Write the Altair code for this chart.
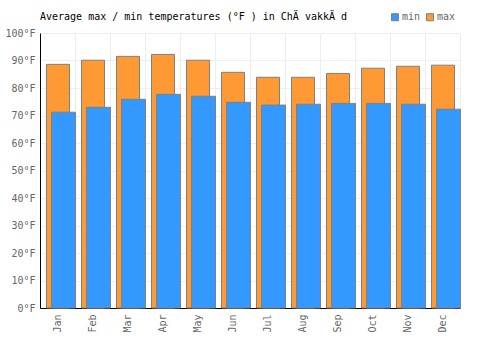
import altair as alt
import pandas as pd

months = ["Jan", "Feb", "Mar", "Apr", "May", "Jun", "Jul", "Aug", "Sep", "Oct", "Nov", "Dec"]
max_temps = [88.6, 90.1, 91.5, 92.2, 90.1, 85.7, 83.9, 83.9, 85.3, 87.2, 87.9, 88.3]
min_temps = [71.2, 73.0, 75.9, 77.7, 77.0, 74.8, 73.8, 74.1, 74.4, 74.4, 74.1, 72.3]
y_ticks = [0, 10, 20, 30, 40, 50, 60, 70, 80, 90, 100]
title_text = "Average max / min temperatures (°F ) in ChÄ vakkÄ d"

rows = []
for m, mx, mn in zip(months, max_temps, min_temps):
    rows.append({"month": m, "type": "max", "value": mx})
    rows.append({"month": m, "type": "min", "value": mn})
df = pd.DataFrame(rows)

FONT = "DejaVu Sans Mono"

x_enc = alt.X(
    "month:N",
    sort=months,
    title=None,
    scale=alt.Scale(paddingInner=0, paddingOuter=0),
    axis=alt.Axis(
        labelAngle=270,
        labelFont=FONT,
        labelFontSize=10,
        labelColor="#666666",
        labelPadding=6,
        ticks=False,
        tickBand="extent",
        grid=True,
        gridColor="#eeeeee",
        domainColor="#000000",
        labelBaseline="middle",
        labelAlign="right",
    ),
)
y_enc = alt.Y(
    "value:Q",
    title=None,
    scale=alt.Scale(domain=[0, 100], nice=False),
    axis=alt.Axis(
        values=y_ticks,
        labelExpr="datum.value + '°F'",
        labelFont=FONT,
        labelFontSize=10,
        labelColor="#666666",
        labelPadding=5,
        ticks=False,
        grid=True,
        gridColor="#eeeeee",
        domainColor="#000000",
    ),
)
color_enc = alt.Color(
    "type:N",
    scale=alt.Scale(domain=["min", "max"], range=["#3399ff", "#ff9933"]),
    legend=alt.Legend(
        title=None,
        orient="none",
        legendX=350,
        legendY=-21,
        direction="horizontal",
        symbolType="square",
        symbolSize=50,
        symbolStrokeColor="#808080",
        symbolStrokeWidth=1,
        labelFont=FONT,
        labelFontSize=10,
        labelColor="#666666",
        columnPadding=3,
        labelOffset=2,
    ),
)

base = alt.Chart(df)
max_bars = base.transform_filter(alt.datum.type == "max").mark_bar(
    width=23, xOffset=0.5, stroke="#808080", strokeWidth=1
).encode(x=x_enc, y=y_enc, color=color_enc)
min_bars = base.transform_filter(alt.datum.type == "min").mark_bar(
    width=24, xOffset=6, stroke="#808080", strokeWidth=1
).encode(x=x_enc, y=y_enc, color=color_enc)

title_mark = alt.Chart(pd.DataFrame({"t": [title_text]})).mark_text(
    align="left", baseline="middle", font=FONT, fontSize=10, color="#000000"
).encode(x=alt.value(0), y=alt.value(-16), text="t:N")

chart = alt.layer(max_bars, min_bars, title_mark).properties(
    width=420,
    height=275,
    autosize=alt.AutoSizeParams(type="none"),
    padding={"left": 40, "top": 33, "right": 40, "bottom": 42},
).configure_view(stroke=None)

chart.save("out.html", embed_options={"renderer": "svg", "actions": False})
